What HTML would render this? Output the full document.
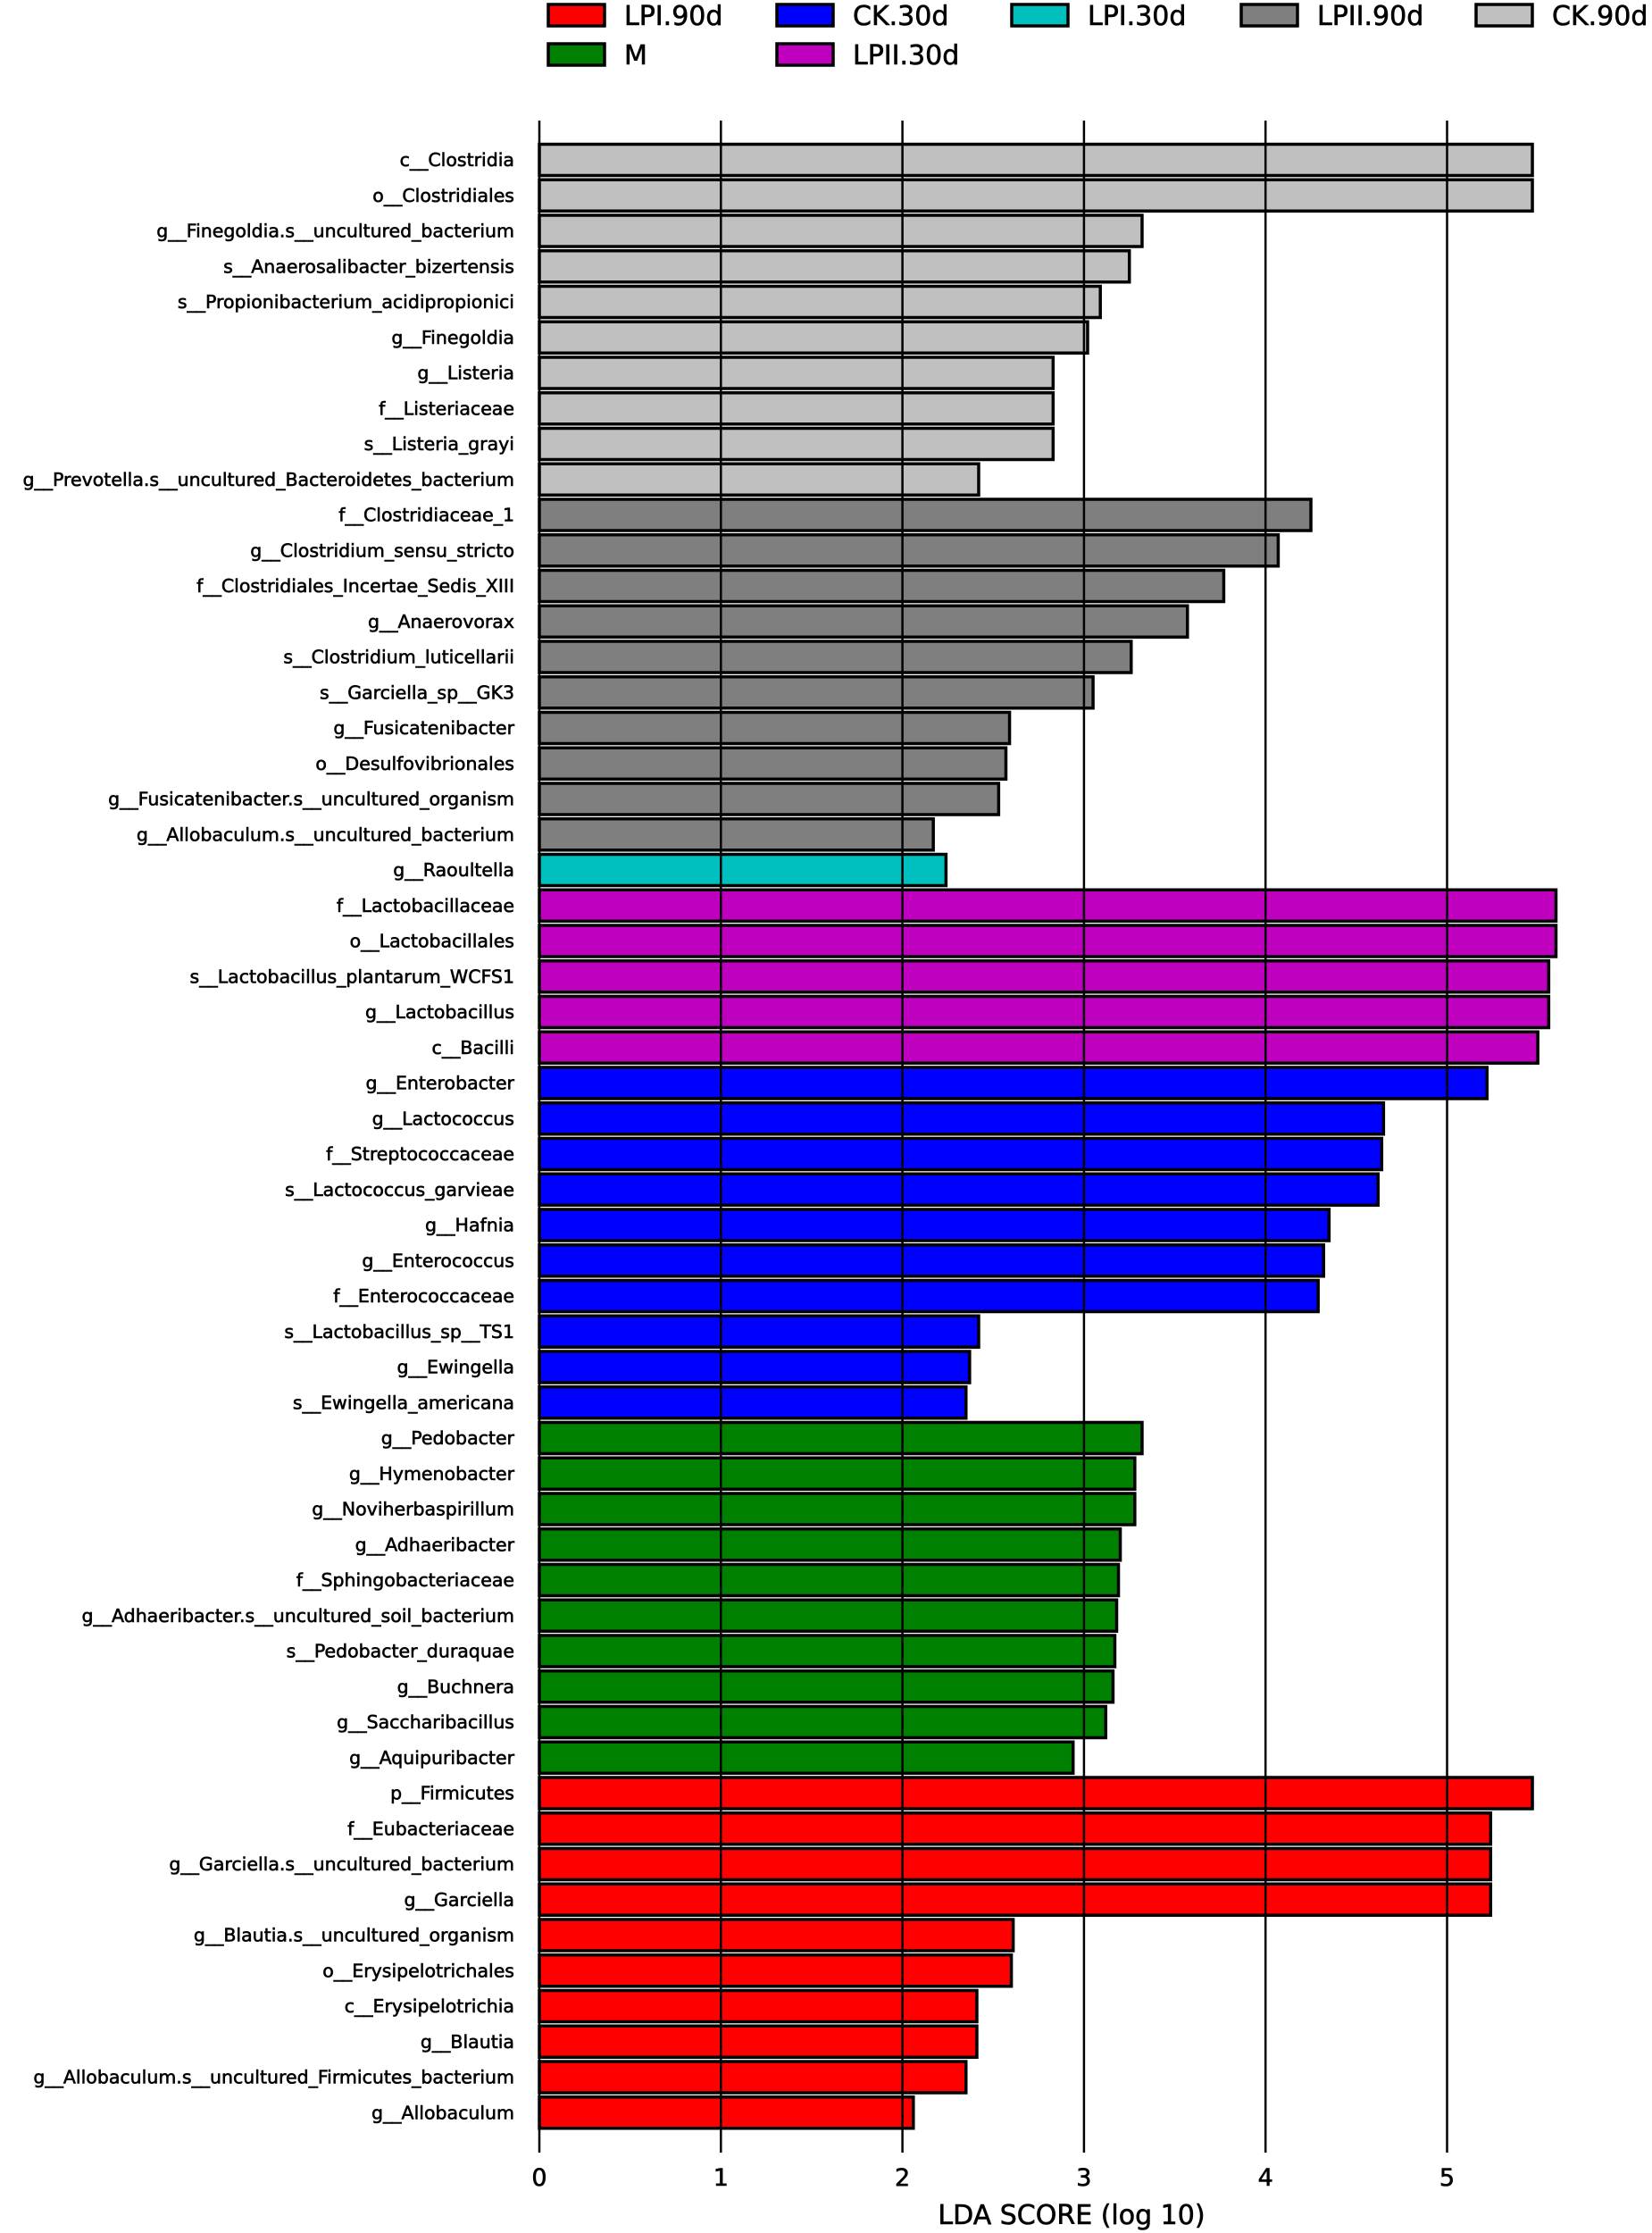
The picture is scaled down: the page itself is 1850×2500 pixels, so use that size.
<!DOCTYPE html>
<html><head><meta charset="utf-8"><style>
html,body{margin:0;padding:0;background:#fff;}
svg{display:block;font-family:"DejaVu Sans","Liberation Sans",sans-serif;}
text{stroke:#000;stroke-width:0.6px;}
</style></head><body>
<svg id="s" width="1850" height="2500" xmlns="http://www.w3.org/2000/svg"></svg>
<script>
const data=[
["c__Clostridia",5.47,"#c0c0c0"],["o__Clostridiales",5.47,"#c0c0c0"],["g__Finegoldia.s__uncultured_bacterium",3.32,"#c0c0c0"],["s__Anaerosalibacter_bizertensis",3.25,"#c0c0c0"],["s__Propionibacterium_acidipropionici",3.09,"#c0c0c0"],["g__Finegoldia",3.02,"#c0c0c0"],["g__Listeria",2.83,"#c0c0c0"],["f__Listeriaceae",2.83,"#c0c0c0"],["s__Listeria_grayi",2.83,"#c0c0c0"],["g__Prevotella.s__uncultured_Bacteroidetes_bacterium",2.42,"#c0c0c0"],
["f__Clostridiaceae_1",4.25,"#7f7f7f"],["g__Clostridium_sensu_stricto",4.07,"#7f7f7f"],["f__Clostridiales_Incertae_Sedis_XIII",3.77,"#7f7f7f"],["g__Anaerovorax",3.57,"#7f7f7f"],["s__Clostridium_luticellarii",3.26,"#7f7f7f"],["s__Garciella_sp__GK3",3.05,"#7f7f7f"],["g__Fusicatenibacter",2.59,"#7f7f7f"],["o__Desulfovibrionales",2.57,"#7f7f7f"],["g__Fusicatenibacter.s__uncultured_organism",2.53,"#7f7f7f"],["g__Allobaculum.s__uncultured_bacterium",2.17,"#7f7f7f"],
["g__Raoultella",2.24,"#00bfbf"],
["f__Lactobacillaceae",5.60,"#bf00bf"],["o__Lactobacillales",5.60,"#bf00bf"],["s__Lactobacillus_plantarum_WCFS1",5.56,"#bf00bf"],["g__Lactobacillus",5.56,"#bf00bf"],["c__Bacilli",5.50,"#bf00bf"],
["g__Enterobacter",5.22,"#0000ff"],["g__Lactococcus",4.65,"#0000ff"],["f__Streptococcaceae",4.64,"#0000ff"],["s__Lactococcus_garvieae",4.62,"#0000ff"],["g__Hafnia",4.35,"#0000ff"],["g__Enterococcus",4.32,"#0000ff"],["f__Enterococcaceae",4.29,"#0000ff"],["s__Lactobacillus_sp__TS1",2.42,"#0000ff"],["g__Ewingella",2.37,"#0000ff"],["s__Ewingella_americana",2.35,"#0000ff"],
["g__Pedobacter",3.32,"#008000"],["g__Hymenobacter",3.28,"#008000"],["g__Noviherbaspirillum",3.28,"#008000"],["g__Adhaeribacter",3.20,"#008000"],["f__Sphingobacteriaceae",3.19,"#008000"],["g__Adhaeribacter.s__uncultured_soil_bacterium",3.18,"#008000"],["s__Pedobacter_duraquae",3.17,"#008000"],["g__Buchnera",3.16,"#008000"],["g__Saccharibacillus",3.12,"#008000"],["g__Aquipuribacter",2.94,"#008000"],
["p__Firmicutes",5.47,"#ff0000"],["f__Eubacteriaceae",5.24,"#ff0000"],["g__Garciella.s__uncultured_bacterium",5.24,"#ff0000"],["g__Garciella",5.24,"#ff0000"],["g__Blautia.s__uncultured_organism",2.61,"#ff0000"],["o__Erysipelotrichales",2.60,"#ff0000"],["c__Erysipelotrichia",2.41,"#ff0000"],["g__Blautia",2.41,"#ff0000"],["g__Allobaculum.s__uncultured_Firmicutes_bacterium",2.35,"#ff0000"],["g__Allobaculum",2.06,"#ff0000"]];
const x0=604,u=203.3;let h='';
data.forEach((d,i)=>{const c=179+i*39.75;
h+=`<rect x="${x0}" y="${c-17.5}" width="${d[1]*u}" height="35" fill="${d[2]}" stroke="#000" stroke-width="3.5"/>`;
h+=`<text x="576" y="${c+7}" text-anchor="end" font-size="20.5">${d[0]}</text>`;});
for(let k=0;k<=5;k++){const x=x0+k*u;h+=`<line x1="${x}" y1="135" x2="${x}" y2="2410" stroke="#000" stroke-width="2.5"/>`;
h+=`<text x="${x}" y="2447" text-anchor="middle" font-size="27">${k}</text>`;}
h+=`<text x="1200" y="2490" text-anchor="middle" font-size="30">LDA SCORE (log 10)</text>`;
const leg=[["LPI.90d","#ff0000",614,17],["CK.30d","#0000ff",870,17],["LPI.30d","#00bfbf",1133,17],["LPII.90d","#7f7f7f",1390,17],["CK.90d","#c0c0c0",1653,17],["M","#008000",614,61],["LPII.30d","#bf00bf",870,61]];
leg.forEach(l=>{h+=`<rect x="${l[2]}" y="${l[3]-12}" width="63" height="24" fill="${l[1]}" stroke="#000" stroke-width="3.5"/>`;
h+=`<text x="${l[2]+85}" y="${l[3]+11}" font-size="30">${l[0]}</text>`;});
document.getElementById('s').innerHTML=h;
</script>
</body></html>
